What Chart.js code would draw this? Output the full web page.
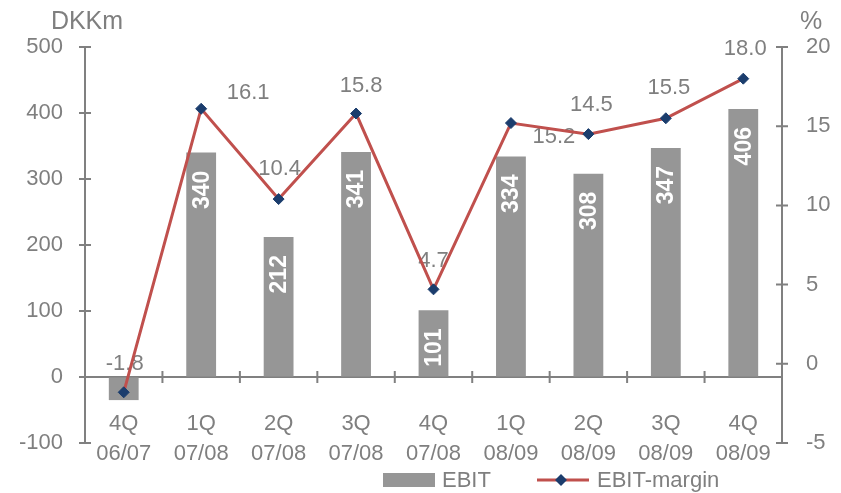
<!DOCTYPE html>
<html>
<head>
<meta charset="utf-8">
<script src="https://cdn.jsdelivr.net/npm/chart.js@4.4.0/dist/chart.umd.min.js"></script>
<style>
  html, body { margin: 0; padding: 0; background: #fff; }
</style>
</head>
<body>
<canvas id="ebit-chart" width="841" height="493"></canvas>
<script>
const quarters = [
  ['4Q', '06/07'], ['1Q', '07/08'], ['2Q', '07/08'], ['3Q', '07/08'], ['4Q', '07/08'],
  ['1Q', '08/09'], ['2Q', '08/09'], ['3Q', '08/09'], ['4Q', '08/09']
];
const ebitValues = [-35, 340, 212, 341, 101, 334, 308, 347, 406];
const marginValues = [-1.8, 16.1, 10.4, 15.8, 4.7, 15.2, 14.5, 15.5, 18.0];

const axisGrey = '#808080';
const textGrey = '#7f7f7f';
const barGrey = '#969696';
const lineRed = '#c0504d';
const markerBlue = '#1b3d6d';
const fontFamily = '"Liberation Sans", Arial, sans-serif';

// where each margin label sits relative to its point
const marginLabelOffsets = [[1, -28], [47, -16], [1, -30], [5, -28], [0, -28], [43, 14], [3, -29], [3, -30], [2, -30]];

Chart.defaults.font.family = fontFamily;
Chart.defaults.color = textGrey;

// small ticks that cross each axis line
const crossTicks = {
  id: 'crossTicks',
  afterDraw(chart) {
    const { ctx, scales: { x, y, y1 } } = chart;
    const zeroY = y.getPixelForValue(0);
    ctx.save();
    ctx.strokeStyle = axisGrey;
    ctx.lineWidth = 2;
    ctx.beginPath();
    y.ticks.forEach((t, i) => {
      const py = y.getPixelForTick(i);
      ctx.moveTo(y.right - 6, py);
      ctx.lineTo(y.right + 6, py);
    });
    y1.ticks.forEach((t, i) => {
      const py = y1.getPixelForTick(i);
      ctx.moveTo(y1.left - 6, py);
      ctx.lineTo(y1.left + 6, py);
    });
    for (let i = 1; i < quarters.length; i++) {
      const px = x.getPixelForValue(i - 0.5);
      ctx.moveTo(px, zeroY - 6);
      ctx.lineTo(px, zeroY + 6);
    }
    ctx.stroke();
    ctx.restore();
  }
};

// value labels: white inside the bars, grey next to the margin points
const valueLabels = {
  id: 'valueLabels',
  afterDatasetDraw(chart, args) {
    if (args.index !== 0) return;
    const { ctx } = chart;
    ctx.save();
    chart.getDatasetMeta(0).data.forEach((bar, i) => {
      if (ebitValues[i] < 0) return;
      ctx.save();
      ctx.translate(bar.x, bar.y + 18);
      ctx.rotate(-Math.PI / 2);
      ctx.fillStyle = '#ffffff';
      ctx.font = 'bold 23px ' + fontFamily;
      ctx.textAlign = 'right';
      ctx.textBaseline = 'middle';
      ctx.fillText(String(ebitValues[i]), 0, 1);
      ctx.restore();
    });
    ctx.fillStyle = textGrey;
    ctx.font = '22px ' + fontFamily;
    ctx.textAlign = 'center';
    ctx.textBaseline = 'middle';
    chart.getDatasetMeta(1).data.forEach((pt, i) => {
      const [dx, dy] = marginLabelOffsets[i];
      ctx.fillText(marginValues[i].toFixed(1), pt.x + dx, pt.y + dy);
    });
    ctx.restore();
  }
};

// axis units and the legend row underneath
const unitsAndLegend = {
  id: 'unitsAndLegend',
  afterDraw(chart) {
    const { ctx, scales: { y, y1 } } = chart;
    ctx.save();
    ctx.fillStyle = textGrey;
    ctx.font = '25px ' + fontFamily;
    ctx.textAlign = 'center';
    ctx.textBaseline = 'middle';
    ctx.fillText('DKKm', y.right + 2, 22);
    ctx.fillText('%', y1.left + 29, 22);

    const ly = 480;
    ctx.fillStyle = barGrey;
    ctx.fillRect(383, ly - 7, 52, 14);
    ctx.fillStyle = textGrey;
    ctx.textAlign = 'left';
    ctx.font = '22px ' + fontFamily;
    ctx.fillText('EBIT', 442, ly + 1);

    ctx.strokeStyle = lineRed;
    ctx.lineWidth = 3;
    ctx.beginPath();
    ctx.moveTo(537, ly);
    ctx.lineTo(589, ly);
    ctx.stroke();
    ctx.fillStyle = markerBlue;
    ctx.beginPath();
    ctx.moveTo(561, ly - 6);
    ctx.lineTo(567, ly);
    ctx.lineTo(561, ly + 6);
    ctx.lineTo(555, ly);
    ctx.closePath();
    ctx.fill();
    ctx.fillStyle = textGrey;
    ctx.fillText('EBIT-margin', 597, ly + 1);
    ctx.restore();
  }
};

const ctx = document.getElementById('ebit-chart').getContext('2d');
new Chart(ctx, {
  type: 'bar',
  data: {
    labels: quarters,
    datasets: [{
      type: 'bar',
      label: 'EBIT',
      data: ebitValues,
      yAxisID: 'y',
      backgroundColor: barGrey,
      borderWidth: 0,
      categoryPercentage: 1,
      barPercentage: 0.385,
      order: 2
    }, {
      type: 'line',
      label: 'EBIT-margin',
      data: marginValues,
      yAxisID: 'y1',
      borderColor: lineRed,
      borderWidth: 3,
      tension: 0,
      pointStyle: 'rectRot',
      pointRadius: 5.5,
      pointBackgroundColor: markerBlue,
      pointBorderColor: markerBlue,
      pointBorderWidth: 1,
      order: 1
    }]
  },
  options: {
    responsive: false,
    animation: false,
    layout: { padding: { top: 47, bottom: 50, left: 0, right: 0 } },
    plugins: {
      legend: { display: false },
      tooltip: { enabled: false }
    },
    scales: {
      x: {
        position: { y: 0 },
        offset: true,
        grid: { drawOnChartArea: false, drawTicks: false },
        border: { color: axisGrey, width: 2 },
        ticks: { color: textGrey, font: { size: 22, lineHeight: 1.36 }, padding: 32, maxRotation: 0, autoSkip: false },
        afterFit(scale) { scale.height = 0; }
      },
      y: {
        position: 'left',
        min: -100,
        max: 500,
        ticks: { stepSize: 100, color: textGrey, font: { size: 22 }, padding: 22 },
        grid: { drawOnChartArea: false, drawTicks: false },
        border: { color: axisGrey, width: 2 },
        afterFit(scale) { scale.width = 85; }
      },
      y1: {
        position: 'right',
        min: -5,
        max: 20,
        ticks: { stepSize: 5, color: textGrey, font: { size: 22 }, padding: 24 },
        grid: { drawOnChartArea: false, drawTicks: false },
        border: { color: axisGrey, width: 2 },
        afterFit(scale) { scale.width = 59; }
      }
    }
  },
  plugins: [crossTicks, valueLabels, unitsAndLegend]
});
</script>
</body>
</html>
